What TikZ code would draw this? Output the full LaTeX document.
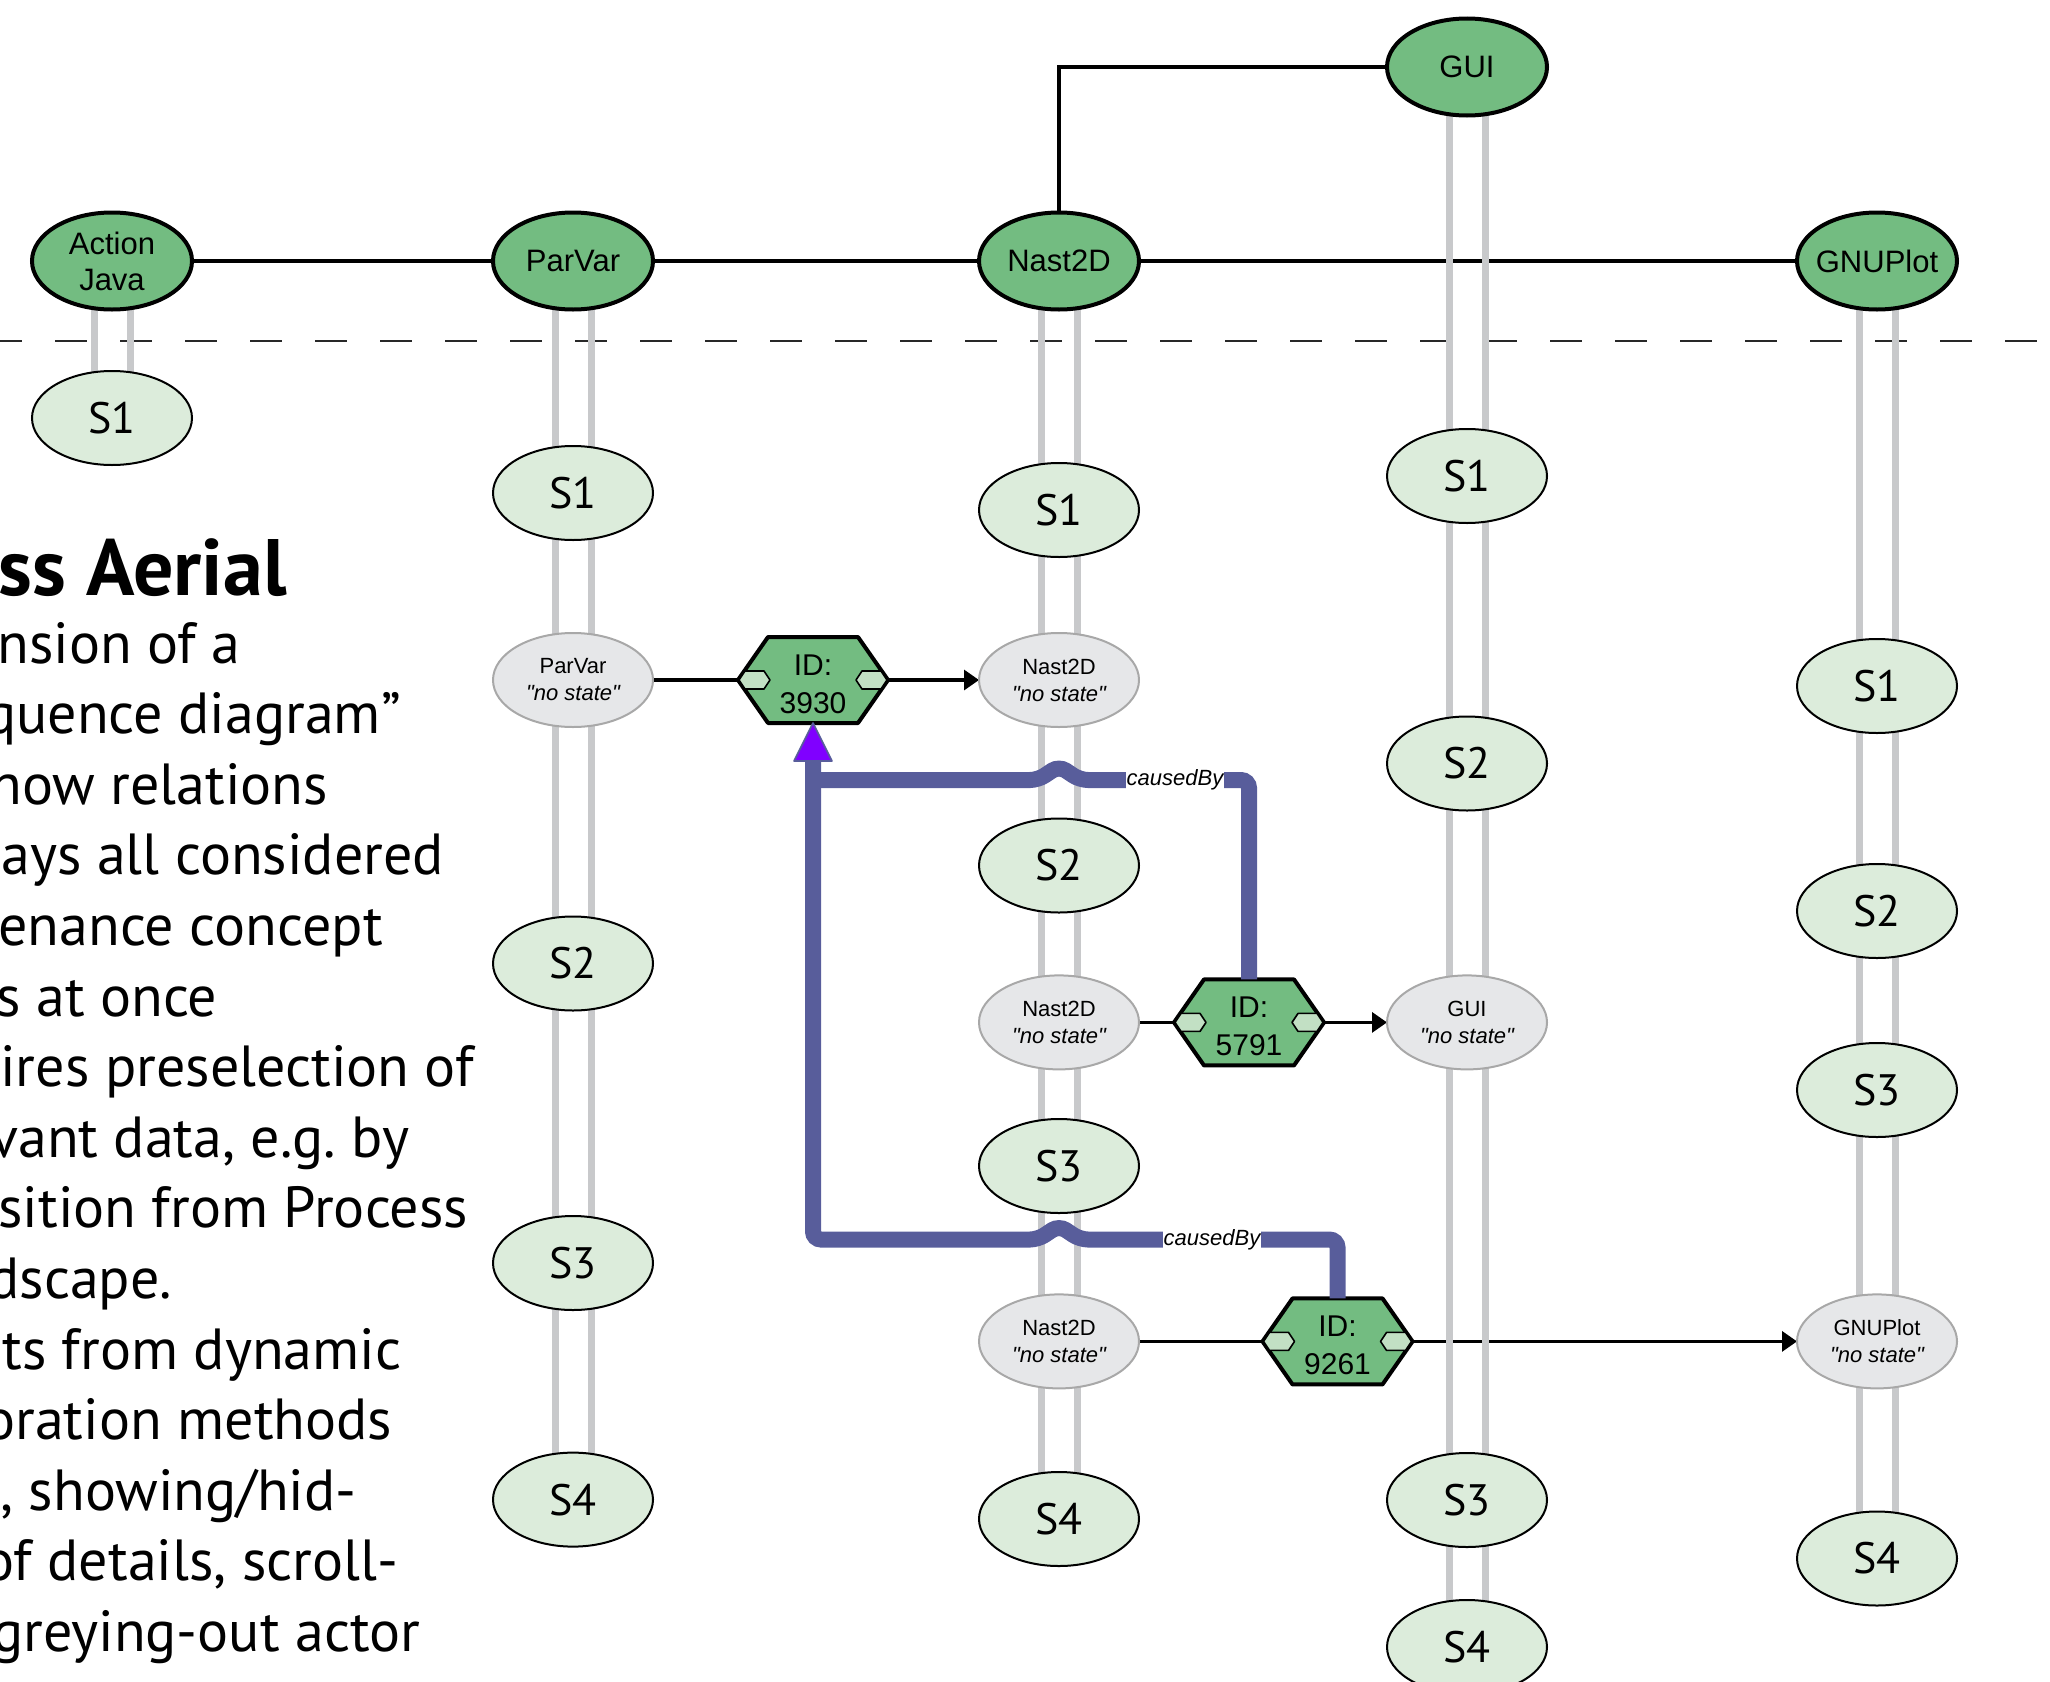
\documentclass[tikz,border=0pt]{standalone}
\usepackage{fontspec}
\usetikzlibrary{arrows.meta,shapes.geometric}
\newfontfamily\bodyfamily{PT Sans}
\newfontfamily\arialfamily{Liberation Sans}
\newcommand\actorfont{\arialfamily\fontsize{15.5}{19}\selectfont}
\newcommand\nsfont{\arialfamily\fontsize{11}{13.5}\selectfont}
\newcommand\hexfont{\arialfamily\fontsize{15}{19}\selectfont}
\newcommand\causefont{\arialfamily\itshape\fontsize{11}{13}\selectfont}
\newcommand\statefont{\bodyfamily\fontsize{22}{26}\selectfont}
\newcommand\paratext{\bodyfamily\fontsize{29}{35}\selectfont}
\newcommand\paratitle{\bodyfamily\bfseries\fontsize{40}{48}\selectfont}

\definecolor{actorgreen}{RGB}{115,188,129}
\definecolor{stategreen}{RGB}{220,236,219}
\definecolor{nsgray}{RGB}{230,231,233}
\definecolor{nsborder}{RGB}{168,168,168}
\definecolor{lifegray}{RGB}{200,201,203}
\definecolor{portgreen}{RGB}{194,224,196}
\definecolor{causepurple}{RGB}{88,93,155}
\definecolor{tipviolet}{RGB}{128,0,255}
\definecolor{dashgray}{RGB}{40,40,40}

\pgfdeclarelayer{bg}
\pgfdeclarelayer{life}
\pgfdeclarelayer{hex}
\pgfsetlayers{bg,life,hex,main}

% activity hexagon with its two ports; #1 name, #2 position, #3 label
\newcommand\idhex[3]{%
  \node[hexnode] (#1) at #2 {};
  \node[hexlabel] (#1-text) at ([yshift=-2pt]#1.center) {#3};
  \begin{pgfonlayer}{hex}
    \draw[hexline] ([shift={(-75,0)}]#1.center) -- ([shift={(-45,-43)}]#1.center)
      -- ([shift={(45,-43)}]#1.center) -- ([shift={(75,0)}]#1.center)
      -- ([shift={(45,43)}]#1.center) -- ([shift={(-45,43)}]#1.center) -- cycle;
    \draw[portline] ([shift={(-74,0)}]#1.center) -- ++(6,-9) -- ++(19,0) -- ++(6,9)
      -- ++(-6,9) -- ++(-19,0) -- cycle;
    \draw[portline] ([shift={(74,0)}]#1.center) -- ++(-6,-9) -- ++(-19,0) -- ++(-6,9)
      -- ++(6,9) -- ++(19,0) -- cycle;
  \end{pgfonlayer}}

\begin{document}
\begin{tikzpicture}[x=0.5pt,y=-0.5pt,
  actor/.style={ellipse, draw, line width=2pt, fill=actorgreen,
    minimum width=80pt, minimum height=48.5pt, inner sep=0pt, outer sep=0pt,
    align=center, font=\actorfont},
  statenode/.style={ellipse, draw, line width=1pt, fill=stategreen,
    minimum width=80pt, minimum height=47pt, inner sep=0pt, font=\statefont},
  nostate/.style={ellipse, draw=nsborder, line width=1pt, fill=nsgray,
    minimum width=80pt, minimum height=47pt, inner sep=0pt, outer sep=0pt,
    align=center, font=\nsfont},
  hexnode/.style={rectangle, minimum width=75pt, minimum height=43pt,
    inner sep=0pt, outer sep=0pt},
  hexlabel/.style={inner sep=0pt, align=center, font=\hexfont},
  hexline/.style={draw=black, fill=actorgreen, line width=2pt, line join=round},
  portline/.style={draw=black, fill=portgreen, line width=0.8pt, line join=round},
  conn/.style={draw=black, line width=1.6pt},
  msg/.style={conn, -{Triangle[length=7.5pt,width=10pt]}},
  lifeline/.style={draw=lifegray, line width=3.5pt},
  dashline/.style={draw=dashgray, line width=1.2pt, dash pattern=on 16pt off 16.5pt, dash phase=5pt},
  cause/.style={draw=causepurple, line width=8pt, rounded corners=4pt},
  causelabel/.style={fill=white, inner xsep=0.5pt, inner ysep=0.5pt, font=\causefont},
  tiphead/.style={fill=tipviolet, draw=causepurple, line width=0.8pt, line join=round},
  para/.style={anchor=base west, inner sep=0pt, font=\paratext},
]
\path[use as bounding box] (0,0) rectangle (2050,1681);
\clip (0,0) rectangle (2050,1681);

% side text
\node[anchor=base west, inner sep=0pt, font=\paratitle] (title) at (-2,595) {ss Aerial};
\node[para] (p1) at (-3,663) {nsion of a};
\node[para] (p2) at (-15,733.6) {quence diagram”};
\node[para] (p3) at (-10,804.2) {how relations};
\node[para] (p4) at (1,874.8) {ays all considered};
\node[para] (p5) at (-2,945.4) {enance concept};
\node[para] (p6) at (-4,1016) {s at once};
\node[para] (p7) at (0,1086.6) {ires preselection of};
\node[para] (p8) at (-10,1157.2) {vant data, e.g.\ by};
\node[para] (p9) at (-2,1227.8) {sition from Process};
\node[para] (p10) at (-12,1298.4) {dscape.};
\node[para] (p11) at (2,1369) {ts from dynamic};
\node[para] (p12) at (-16,1439.6) {oration methods};
\node[para] (p13) at (0,1510.2) {, showing/hid-};
\node[para] (p14) at (-17,1580.8) {of details, scroll-};
\node[para] (p15) at (-8,1651.4) {greying-out actor};

% actors
\node[actor] (AJ) at (112,261) {Action\\[-1pt]Java};
\node[actor] (PV) at (573,261) {ParVar};
\node[actor] (N2) at (1059,261) {Nast2D};
\node[actor] (GUI) at (1467,67) {GUI};
\node[actor, inner xsep=-3pt] (GP) at (1877,261) {GNUPlot};

% states of Action Java
\node[statenode] (AJs1) at (112,418) {S1};

% states of ParVar
\node[statenode] (PVs1) at (573,493) {S1};
\node[nostate] (PVns) at (573,680) {ParVar\\\itshape "no state"};
\node[statenode] (PVs2) at (573,963.5) {S2};
\node[statenode] (PVs3) at (573,1263) {S3};
\node[statenode] (PVs4) at (573,1499.6) {S4};

% states of Nast2D
\node[statenode] (N2s1) at (1059,510) {S1};
\node[nostate] (N2ns1) at (1059,680) {Nast2D\\\itshape "no state"};
\node[statenode] (N2s2) at (1059,865.5) {S2};
\node[nostate] (N2ns2) at (1059,1022.4) {Nast2D\\\itshape "no state"};
\node[statenode] (N2s3) at (1059,1166) {S3};
\node[nostate] (N2ns3) at (1059,1341.4) {Nast2D\\\itshape "no state"};
\node[statenode] (N2s4) at (1059,1519) {S4};

% states of GUI
\node[statenode] (GUIs1) at (1467,476) {S1};
\node[statenode] (GUIs2) at (1467,763.5) {S2};
\node[nostate] (GUIns) at (1467,1022.4) {GUI\\\itshape "no state"};
\node[statenode] (GUIs3) at (1467,1500) {S3};
\node[statenode] (GUIs4) at (1467,1647) {S4};

% states of GNUPlot
\node[statenode] (GPs1) at (1877,686) {S1};
\node[statenode] (GPs2) at (1877,911) {S2};
\node[statenode] (GPs3) at (1877,1090) {S3};
\node[nostate] (GPns) at (1877,1341.4) {GNUPlot\\\itshape "no state"};
\node[statenode] (GPs4) at (1877,1558.5) {S4};

% activities
\idhex{h3930}{(813,680)}{ID:\\3930}
\idhex{h5791}{(1249,1022.4)}{ID:\\5791}
\idhex{h9261}{(1337.5,1341.4)}{ID:\\9261}

% communication lines between actors, time separator, messages
\begin{pgfonlayer}{bg}
  \draw[dashline] (0,341) -- (2050,341);
  \draw[conn] (AJ) -- (PV);
  \draw[conn] (PV) -- (N2);
  \draw[conn] (N2) -- (GP);
  \draw[conn] (N2.north) |- (GUI.west);
  \draw[conn] (PVns) -- (h3930.west);
  \draw[msg] (h3930.east) -- (N2ns1.west);
  \draw[conn] (N2ns2) -- (h5791.west);
  \draw[msg] (h5791.east) -- (GUIns.west);
  \draw[conn] (N2ns3) -- (h9261.west);
  \draw[msg] (h9261.east) -- (GPns.west);
\end{pgfonlayer}

% lifelines
\begin{pgfonlayer}{life}
  \foreach \a/\b in {AJ/AJs1, PV/PVs4, N2/N2s4, GUI/GUIs4, GP/GPs4}{
    \draw[lifeline] ([xshift=-9pt]\a.center) -- ([xshift=-9pt]\b.center);
    \draw[lifeline] ([xshift=9pt]\a.center) -- ([xshift=9pt]\b.center);
  }
\end{pgfonlayer}

% causedBy relations
\draw[cause] (h5791.north) -- (1249,780) -- (1080,780) -- (1059,766) -- (1038,780) -- (813,780);
\draw[cause] (h9261.north) -- (1337.5,1239.5) -- (1080,1239.5) -- (1059,1225.5)
  -- (1038,1239.5) -- (813,1239.5) -- ([yshift=-19pt]h3930.south);
\fill[tiphead] (h3930.south) -- ([shift={(-19,38)}]h3930.south) -- ([shift={(19,38)}]h3930.south) -- cycle;
\node[causelabel] (cb1) at (1175,780) {causedBy};
\node[causelabel] (cb2) at (1212,1240) {causedBy};
\end{tikzpicture}
\end{document}
